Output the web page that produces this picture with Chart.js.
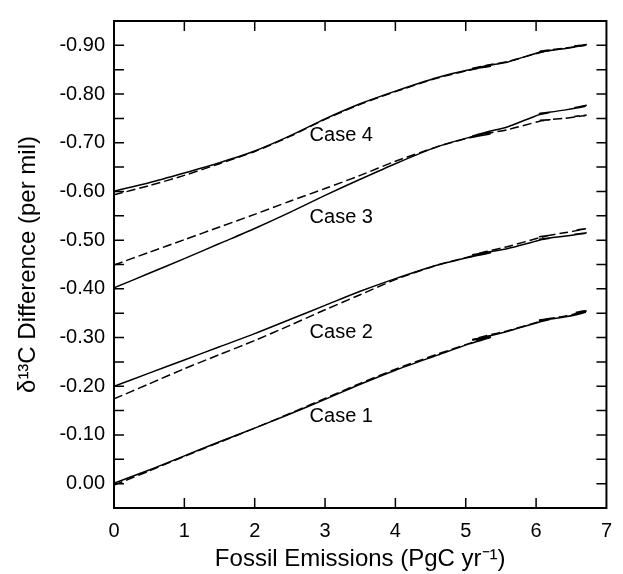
<!DOCTYPE html>
<html>
<head>
<meta charset="utf-8">
<script src="https://cdn.jsdelivr.net/npm/chart.js@4.4.1/dist/chart.umd.min.js"></script>
<style>
  html, body { margin: 0; padding: 0; background: #fff; }
</style>
</head>
<body>
<canvas id="chart" width="623" height="574"></canvas>
<script>
// fossil emissions (x), note the small back-and-forth around 5.1 and 6.1-6.7
const emissions = [0, 0.5, 1, 1.5, 2, 2.5, 3, 3.5, 4, 4.6, 5.05, 5.35, 5.1, 5.3, 5.6, 6.05, 6.2, 6.05, 6.4, 6.7, 6.55, 6.72];

// delta 13C difference, solid and dashed curve per case
const case1Solid  = [-0.001, -0.028, -0.057, -0.086, -0.114, -0.143, -0.173, -0.204, -0.233, -0.264, -0.287, -0.300, -0.295, -0.302, -0.313, -0.332, -0.337, -0.335, -0.342, -0.352, -0.349, -0.355];
const case1Dashed = [0.003, -0.026, -0.056, -0.085, -0.114, -0.144, -0.175, -0.206, -0.235, -0.266, -0.288, -0.303, -0.296, -0.304, -0.314, -0.333, -0.339, -0.336, -0.344, -0.353, -0.351, -0.356];
const case2Solid  = [-0.200, -0.227, -0.254, -0.281, -0.308, -0.337, -0.366, -0.395, -0.421, -0.449, -0.465, -0.474, -0.469, -0.475, -0.483, -0.500, -0.504, -0.502, -0.508, -0.514, -0.512, -0.515];
const case2Dashed = [-0.174, -0.205, -0.236, -0.265, -0.294, -0.325, -0.357, -0.388, -0.419, -0.449, -0.466, -0.476, -0.470, -0.477, -0.487, -0.505, -0.510, -0.507, -0.515, -0.523, -0.520, -0.524];
const case3Solid  = [-0.402, -0.432, -0.462, -0.493, -0.524, -0.557, -0.592, -0.625, -0.657, -0.692, -0.711, -0.721, -0.714, -0.722, -0.733, -0.758, -0.762, -0.760, -0.767, -0.775, -0.772, -0.777];
const case3Dashed = [-0.449, -0.475, -0.501, -0.527, -0.553, -0.580, -0.606, -0.633, -0.662, -0.692, -0.710, -0.718, -0.712, -0.719, -0.727, -0.744, -0.747, -0.746, -0.750, -0.756, -0.754, -0.757];
const case4Solid  = [-0.601, -0.618, -0.638, -0.659, -0.683, -0.714, -0.749, -0.780, -0.806, -0.834, -0.850, -0.857, -0.852, -0.858, -0.866, -0.886, -0.889, -0.887, -0.893, -0.901, -0.898, -0.902];
const case4Dashed = [-0.593, -0.612, -0.633, -0.657, -0.682, -0.713, -0.748, -0.779, -0.805, -0.833, -0.849, -0.858, -0.853, -0.859, -0.867, -0.885, -0.890, -0.888, -0.894, -0.900, -0.899, -0.901];

const caseNames = ['Case 1', 'Case 2', 'Case 3', 'Case 4'];
const caseLabelX = 2.78;
const caseLabelY = [-0.137, -0.311, -0.546, -0.714];

const FONT = "'Liberation Sans', Arial, sans-serif";
const TICK_LEN = 10;

function pts(ys) {
  return emissions.map((x, i) => ({ x: x, y: ys[i] }));
}

function line(label, ys, dashed) {
  return {
    label: label,
    data: pts(ys),
    showLine: true,
    borderColor: '#000',
    borderWidth: 1.5,
    borderDash: dashed ? [9, 4] : [],
    pointRadius: 0,
    tension: 0.25,
    fill: false
  };
}

// box round the plot, inward ticks on all four sides, case labels
const frameAndLabels = {
  id: 'frameAndLabels',
  afterDatasetsDraw(chart) {
    const { ctx, chartArea: a, scales: { x, y } } = chart;
    ctx.save();
    ctx.strokeStyle = '#000';
    ctx.lineWidth = 1.5;
    ctx.beginPath();
    x.ticks.forEach(function(t) {
      const px = x.getPixelForValue(t.value);
      if (px <= a.left + 1 || px >= a.right - 1) return;
      ctx.moveTo(px, a.bottom); ctx.lineTo(px, a.bottom - TICK_LEN);
      ctx.moveTo(px, a.top); ctx.lineTo(px, a.top + TICK_LEN);
    });
    y.ticks.forEach(function(t) {
      const py = y.getPixelForValue(t.value);
      if (py <= a.top + 1 || py >= a.bottom - 1) return;
      ctx.moveTo(a.left, py); ctx.lineTo(a.left + TICK_LEN, py);
      ctx.moveTo(a.right, py); ctx.lineTo(a.right - TICK_LEN, py);
    });
    ctx.stroke();
    ctx.lineWidth = 2;
    ctx.strokeRect(a.left, a.top, a.right - a.left, a.bottom - a.top);

    ctx.font = '20px ' + FONT;
    ctx.fillStyle = '#000';
    ctx.textAlign = 'left';
    ctx.textBaseline = 'middle';
    caseNames.forEach(function(n, i) {
      ctx.fillText(n, x.getPixelForValue(caseLabelX), y.getPixelForValue(caseLabelY[i]));
    });
    ctx.restore();
  }
};

new Chart(document.getElementById('chart'), {
  type: 'scatter',
  data: {
    datasets: [
      line('Case 1', case1Solid, false),
      line('Case 1 dashed', case1Dashed, true),
      line('Case 2', case2Solid, false),
      line('Case 2 dashed', case2Dashed, true),
      line('Case 3', case3Solid, false),
      line('Case 3 dashed', case3Dashed, true),
      line('Case 4', case4Solid, false),
      line('Case 4 dashed', case4Dashed, true)
    ]
  },
  options: {
    responsive: false,
    animation: false,
    layout: { padding: { top: 11, right: 12, left: 0, bottom: 0 } },
    plugins: { legend: { display: false }, tooltip: { enabled: false } },
    scales: {
      x: {
        type: 'linear',
        min: 0,
        max: 7,
        grid: { display: false, drawTicks: false },
        border: { display: false },
        ticks: { stepSize: 1, padding: 11, color: '#000', font: { family: FONT, size: 20 } },
        title: {
          display: true,
          text: 'Fossil Emissions (PgC yr\u207B\u00B9)',
          color: '#000',
          font: { family: FONT, size: 24 },
          padding: { top: 0, bottom: 0 }
        },
        afterFit: function(scale) { scale.height = 66; }
      },
      y: {
        type: 'linear',
        reverse: true,
        min: -0.95,
        max: 0.05,
        grid: { display: false, drawTicks: false },
        border: { display: false },
        ticks: {
          stepSize: 0.05,
          autoSkip: false,
          padding: 9,
          color: '#000',
          font: { family: FONT, size: 20 },
          callback: function(v) {
            if (Math.round(v * 100) % 10 !== 0) return '';
            if (v > 0.001) return '';
            return v.toFixed(2);
          }
        },
        title: {
          display: true,
          text: '\u03B4\u00B9\u00B3C Difference (per mil)',
          color: '#000',
          font: { family: FONT, size: 24 },
          padding: { top: 14, bottom: 0 }
        },
        afterFit: function(scale) { scale.width = 114; }
      }
    }
  },
  plugins: [frameAndLabels]
});
</script>
</body>
</html>
